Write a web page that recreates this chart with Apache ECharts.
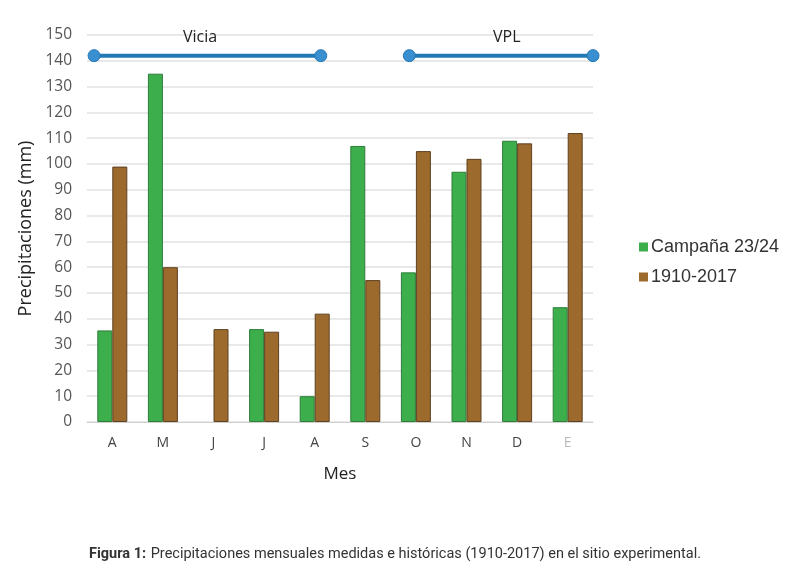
<!DOCTYPE html>
<html><head><meta charset="utf-8">
<script src="https://cdn.jsdelivr.net/npm/echarts@6/dist/echarts.min.js"></script>
<style>html,body{margin:0;padding:0;background:#fff}#c{width:790px;height:574px}</style>
</head><body><div id="c"></div>
<script>
const months = ['A','M','J','J','A','S','O','N','D','E'];
const campana = [35.5, 135, 0, 36, 10, 107, 58, 97, 109, 44.5];
const historico = [99, 60, 36, 35, 42, 55, 105, 102, 108, 112];
const yTicks = [0,10,20,30,40,50,60,70,80,90,100,110,120,130,140,150];
const viciaLine = [[0.14,142],[4.62,142]];
const vplLine = [[6.37,142],[10,142]];
const periodLabels = ['Vicia','VPL'];

const chart = echarts.init(document.getElementById('c'));
const font = 'Open Sans';
const hideZero = arr => arr.map(v => v === 0 ? {value:0,itemStyle:{borderWidth:0,opacity:0}} : v);
chart.setOption({
  animation:false,
  backgroundColor:'#fff',
  textStyle:{fontFamily:font},
  grid:{left:87,right:197,top:35,bottom:152,containLabel:false},
  title:[
    {text:periodLabels[0],left:178,top:24,textStyle:{fontFamily:font,fontSize:16,fontWeight:'normal',color:'#222'}},
    {text:periodLabels[1],left:488,top:24,textStyle:{fontFamily:font,fontSize:16,fontWeight:'normal',color:'#222'}},
    {text:'{b|Figura 1:} {n|Precipitaciones mensuales medidas e históricas (1910-2017) en el sitio experimental.}',
     left:'center',top:540,textStyle:{fontWeight:'normal',rich:{
      b:{fontFamily:'Roboto',fontWeight:'bold',fontSize:14.5,color:'#333'},
      n:{fontFamily:'Roboto',fontWeight:'normal',fontSize:14.5,color:'#333'}}}}
  ],
  legend:{orient:'vertical',left:634,top:233,itemWidth:9,itemHeight:9,itemGap:12,icon:'rect',
    itemStyle:{borderWidth:0},
    textStyle:{fontFamily:'Liberation Sans',fontSize:18,color:'#333',padding:[0,0,0,-2]},
    data:['Campaña 23/24','1910-2017']},
  xAxis:[
    {type:'category',data:months,name:'Mes',nameLocation:'middle',nameGap:44,
     nameTextStyle:{fontFamily:font,fontSize:17,color:'#222'},
     axisLine:{lineStyle:{color:'#d0d0d0'}},axisTick:{show:false},
     axisLabel:{margin:14,fontSize:14,color:function(v,i){return i===9?'#bbbbbb':'#444';}}},
    {type:'value',min:0,max:10,show:false}
  ],
  yAxis:{type:'value',min:0,max:150,interval:10,name:'Precipitaciones (mm)',nameLocation:'middle',nameGap:52,
    nameTextStyle:{fontFamily:font,fontSize:18,color:'#222'},
    axisLine:{show:false},axisTick:{show:false},
    axisLabel:{fontSize:15.5,color:'#555',margin:15},
    splitLine:{lineStyle:{color:'#e2e2e2',width:1.5}}},
  series:[
    {name:'Campaña 23/24',type:'bar',data:hideZero(campana),barWidth:15,barGap:'0%',
     itemStyle:{color:'#3cae4b',borderColor:'#2e7d3a',borderWidth:1}},
    {name:'1910-2017',type:'bar',data:hideZero(historico),barWidth:15,barGap:'0%',
     itemStyle:{color:'#9b6a2c',borderColor:'#5e4120',borderWidth:1}},
    {type:'line',xAxisIndex:1,data:viciaLine,symbol:'circle',symbolSize:12,
     lineStyle:{color:'#2278b5',width:4},itemStyle:{color:'#3a8fd0',borderColor:'#2278b5',borderWidth:1},z:5},
    {type:'line',xAxisIndex:1,data:vplLine,symbol:'circle',symbolSize:12,
     lineStyle:{color:'#2278b5',width:4},itemStyle:{color:'#3a8fd0',borderColor:'#2278b5',borderWidth:1},z:5}
  ]
});
</script></body></html>
